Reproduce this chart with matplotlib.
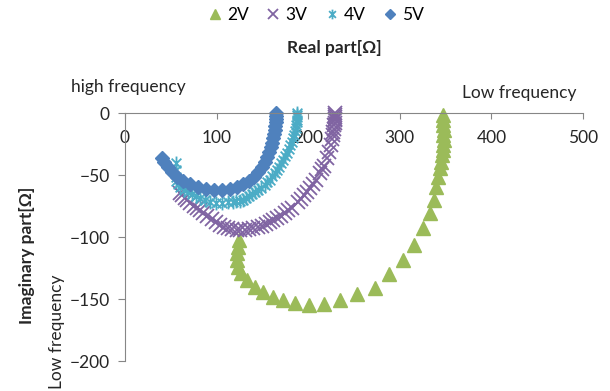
import numpy as np
import matplotlib
matplotlib.use("Agg")
import matplotlib.pyplot as plt
from matplotlib.path import Path

plt.rcParams['font.family'] = ['Lato', 'DejaVu Sans']

# Données (partie réelle, partie imaginaire) en ohms
re_2v = [347, 347, 347, 348, 347, 348, 347, 347, 346, 345, 344, 341.5, 340, 337, 333, 325,
         315, 303, 288, 273, 253, 235, 217, 201, 185.5, 172, 161.5, 150.5, 142, 133,
         126.5, 123.5, 122, 122, 123.5, 124.5]
im_2v = [-1.6, -5.6, -9.7, -13.7, -17.7, -21.8, -25.8, -29.8, -33.9, -39.5, -44.4, -51.6,
         -59.7, -70.2, -80.6, -92.7, -106.5, -118.5, -129.8, -141, -146, -150.8, -154,
         -154.8, -153.2, -150.8, -148.4, -144.4, -140.3, -134.7, -129, -124.2, -118.5,
         -112.9, -108.1, -102.4]

re_3v = [229.5, 229.5, 229.3, 229.1, 229, 228.8, 228.5, 228, 227.5, 226.9, 226, 224.5, 222.6,
         220.4, 217, 215, 212.7, 208.4, 205, 202, 199, 195.3, 192, 188.7, 182, 178, 174.6,
         170, 166, 162, 158, 154, 149.5, 145, 140, 135, 131, 126, 122, 117, 112.5, 108,
         103.6, 99, 95, 90, 85, 82, 78.6, 75, 71, 68, 65.5, 62.5, 60]
im_3v = [0, -1.5, -3, -4.5, -6, -8, -10, -12.5, -15, -18, -21, -26, -31.5, -36.3, -42.7,
         -45.5, -48.4, -54, -57.5, -60.5, -63.5, -66.1, -69, -71.8, -76.6, -78.5, -80.6,
         -82.8, -84.7, -86.5, -87.9, -89.5, -91.1, -92, -92.7, -93.8, -94.4, -94.6, -94.4,
         -93.7, -92.7, -91.6, -90.3, -88, -85.5, -83, -80.6, -78.6, -76.6, -74.6, -72.6,
         -70.5, -68.5, -66.5, -64.5]

re_4v = [188, 188, 187.7, 187.7, 187.5, 187, 186.6, 185.5, 184.5, 183.3, 182, 180, 178.5,
         176.7, 174.5, 172.4, 170, 168, 166, 163.7, 161, 158.2, 155.5, 152.7, 149, 145,
         142, 138.6, 135.5, 132, 129, 125.5, 121.5, 117.8, 112, 106, 99, 93, 87, 82, 77.5,
         73, 68.5, 64.4, 60.5, 57.8, 56, 55.6, 55.6, 55.6]
im_4v = [0, -1.6, -3.2, -5.6, -7.5, -9.7, -12, -14.5, -17.5, -20.2, -23, -25.8, -29, -32.2,
         -35, -37.9, -40.7, -43.5, -46, -48.4, -51.2, -54, -56, -58, -60.1, -62.1, -63.7,
         -65.3, -67, -68.5, -69.8, -70.9, -71.3, -71.7, -72.1, -72.5, -72.2, -71.7, -70.2,
         -68.5, -67, -65.3, -63.8, -62.1, -59.8, -57.2, -54.5, -51.6, -45.9, -40.3]

re_5v = [164.7, 164.7, 164.7, 164.7, 163.7, 163.7, 162.6, 161.5, 160.4, 159.3, 157, 155,
         152.7, 149.5, 145, 140.7, 135.3, 128.7, 122.2, 114.6, 105.8, 97, 88.4, 79.6, 71,
         63.3, 56.7, 51.3, 47, 42.5, 40.4]
im_5v = [0, -2.4, -4.8, -7.3, -10.5, -13.7, -16.9, -20.2, -24.2, -27.4, -31.4, -35.5, -39.5,
         -43.5, -47.6, -51.6, -54.8, -57.2, -59.6, -61.3, -62.1, -62.1, -61.3, -59.6, -57.2,
         -54.8, -51.6, -47.6, -43.5, -39.5, -36.3]

# Marqueur étoile (croix + trait vertical)
etoile = Path([(0, -1), (0, 1), (-0.7, -0.7), (0.7, 0.7), (-0.7, 0.7), (0.7, -0.7)],
              [Path.MOVETO, Path.LINETO] * 3)

fig = plt.figure(figsize=(6.1, 3.91), dpi=100)
ax = fig.add_axes([125/610, 1-361/391, 458/610, 248/391])

ax.plot(re_2v, im_2v, ls='none', marker='^', ms=10.5, color='#9BBB59', mec='#9BBB59',
        label='2V', clip_on=False)
ax.plot(re_3v, im_3v, ls='none', marker='x', ms=9.5, mew=1.3, color='#8064A2',
        label='3V', clip_on=False)
ax.plot(re_4v, im_4v, ls='none', marker=etoile, ms=10, mew=1.3, color='#4BACC6',
        mec='#4BACC6', label='4V', clip_on=False)
ax.plot(re_5v, im_5v, ls='none', marker='D', ms=7.5, color='#4F81BD', mec='#4F81BD',
        label='5V', clip_on=False)

ax.set_xlim(0, 500)
ax.set_ylim(-200, 0)
ax.set_xticks(np.arange(0, 501, 100))
ax.set_yticks(np.arange(-200, 1, 50))

ax.spines['top'].set_visible(False)
ax.spines['right'].set_visible(False)
ax.spines['bottom'].set_position(('data', 0))
for s in ['left', 'bottom']:
    ax.spines[s].set_color('#868686')
ax.tick_params(axis='x', direction='out', length=4, color='#868686', pad=8,
               labelsize=12.5, labelcolor='#262626')
ax.tick_params(axis='y', direction='out', length=5, color='#868686', pad=6,
               labelsize=12.5, labelcolor='#262626')

fig.text(334/610, 1-48/391, 'Real part[Ω]', ha='center', va='center',
         fontsize=12.5, fontweight='bold', color='#262626')
fig.text(27/610, 1-255/391, 'Imaginary part[Ω]', ha='center', va='center',
         rotation=90, fontsize=12.5, fontweight='bold', color='#262626')
fig.text(128/610, 1-87/391, 'high frequency', ha='center', va='center',
         fontsize=12.5, color='#262626')
fig.text(519/610, 1-93/391, 'Low frequency', ha='center', va='center',
         fontsize=12.5, color='#262626')
fig.text(57/610, 1-389/391, 'Low frequency', ha='center', va='bottom',
         rotation=90, fontsize=12.5, color='#262626')

fig.legend(loc='center', bbox_to_anchor=(316/610, 1-15/391), ncol=4, frameon=False,
           fontsize=12.5, markerscale=0.7, handlelength=0.8, handletextpad=0.3,
           columnspacing=1.0, borderaxespad=0)

fig.savefig('out.png', dpi=100)
